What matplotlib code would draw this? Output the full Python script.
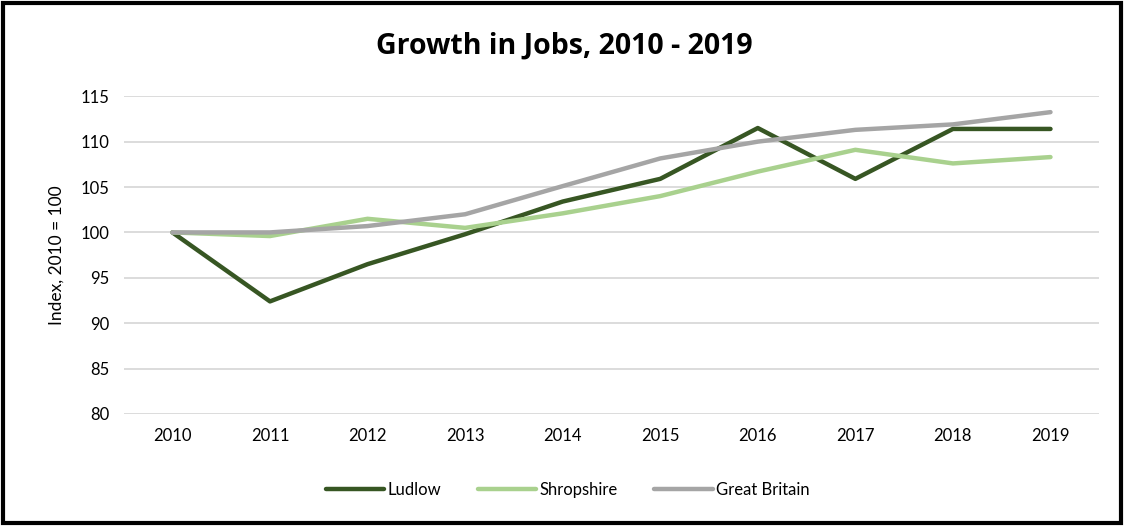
import matplotlib.pyplot as plt
from matplotlib.patches import Rectangle

years = ['2010', '2011', '2012', '2013', '2014', '2015', '2016', '2017', '2018', '2019']
ludlow = [100, 92.4, 96.5, 99.8, 103.4, 105.9, 111.5, 105.9, 111.4, 111.4]
shropshire = [100, 99.6, 101.5, 100.5, 102.1, 104.0, 106.7, 109.1, 107.6, 108.3]
great_britain = [100, 100.0, 100.7, 102.0, 105.1, 108.15, 110.0, 111.3, 111.9, 113.25]

plt.rcParams['font.family'] = ['Lato', 'DejaVu Sans']

fig = plt.figure(figsize=(11.24, 5.26), dpi=100)
ax = fig.add_axes([0.110, 0.213, 0.868, 0.604])

x = range(len(years))
ax.plot(x, ludlow, color='#375623', lw=3.2, label='Ludlow', solid_capstyle='round')
ax.plot(x, shropshire, color='#A9D18E', lw=3.2, label='Shropshire', solid_capstyle='round')
ax.plot(x, great_britain, color='#A5A5A5', lw=3.2, label='Great Britain', solid_capstyle='round')

ax.set_xlim(-0.5, len(years) - 0.5)
ax.set_ylim(80, 115)
ax.set_yticks(range(80, 116, 5))
ax.set_xticks(list(x))
ax.set_xticklabels(years)
ax.grid(axis='y', color='#D9D9D9', lw=1.3)
ax.set_axisbelow(True)
for s in ax.spines.values():
    s.set_visible(False)
ax.tick_params(length=0, labelsize=12, colors='black', pad=10)
ax.set_ylabel('Index, 2010 = 100', fontsize=12.5, labelpad=12)

fig.text(0.502, 0.912, 'Growth in Jobs, 2010 - 2019', fontsize=20.5, fontweight='bold',
         family=['Open Sans', 'DejaVu Sans'], ha='center', va='center')
fig.legend(loc='center', bbox_to_anchor=(0.505, 0.068), ncol=3, frameon=False,
           fontsize=12, handlelength=3.5, handletextpad=0.2, columnspacing=2.2)

fig.patches.append(Rectangle((0.003, 0.005), 0.994, 0.99, transform=fig.transFigure,
                             fill=False, edgecolor='black', lw=3))

fig.savefig('out.png', dpi=100)
